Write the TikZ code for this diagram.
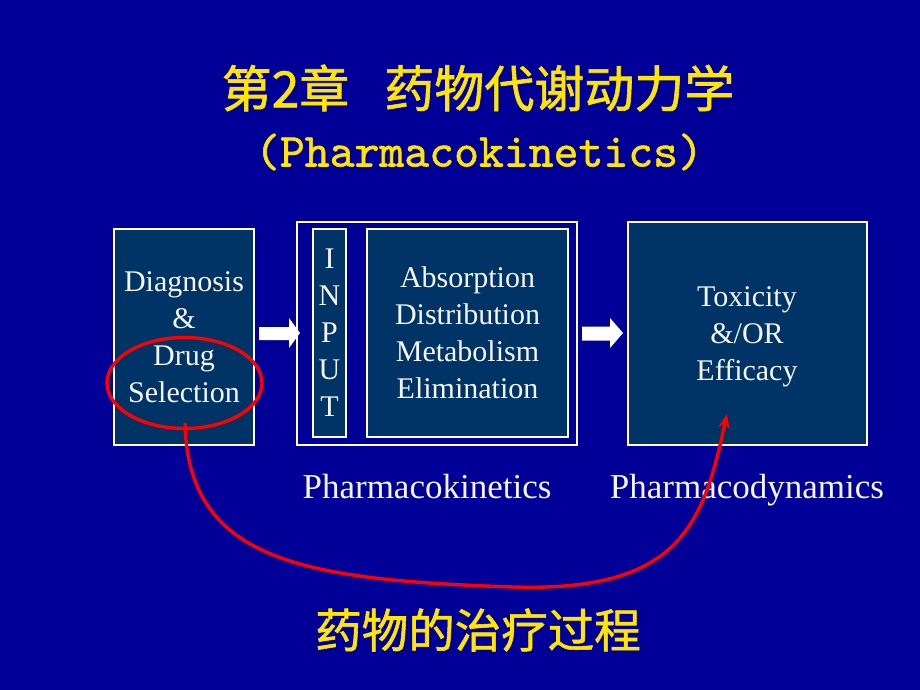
\documentclass[tikz,border=0pt]{standalone}
\usepackage{fontspec}
\setmainfont{Liberation Serif}
\newfontfamily\cjk[FakeBold=1.2]{Noto Sans CJK SC}
\newfontfamily\tmono[FakeBold=1.2]{lmmono10-regular.otf}
\usetikzlibrary{arrows.meta,shapes.geometric}
\definecolor{bgblue}{RGB}{0,0,153}
\definecolor{boxblue}{RGB}{0,51,102}
\definecolor{ttl}{RGB}{255,230,0}
\definecolor{txt}{RGB}{245,245,245}
\definecolor{redc}{RGB}{255,0,0}
\begin{document}
\begin{tikzpicture}[x=1pt,y=-1pt,
  box/.style={draw=white,line width=2.2pt,fill=boxblue,inner sep=0pt,text=txt,align=center,
    font=\fontsize{30}{37}\selectfont},
  frame/.style={draw=white,line width=2.6pt,inner sep=0pt},
  boxtext/.style={text=txt,align=center,inner sep=0pt,font=\fontsize{30}{37}\selectfont},
  label/.style={text=txt,inner sep=0pt,anchor=base,font=\fontsize{35}{40}\selectfont},
  blockarrow/.style={fill=white},
  redline/.style={draw=redc,line width=3.4pt},
  title/.style={text=ttl,inner sep=0pt}]
\fill[bgblue] (0,0) rectangle (920,690);
\useasboundingbox (0,0) rectangle (920,690);

% titles
\node[title] (t1) at (478,88) {\cjk\fontsize{50}{60}\selectfont 第2章\hspace{35pt}药物代谢动力学};
\node[title] (t2) at (479,152) {\tmono\fontsize{47.4}{56}\selectfont (Pharmacokinetics)};
\node[title] (t3) at (478,630) {\cjk\fontsize{46.5}{50}\selectfont 药物的治疗过程};

% boxes
\node[box,minimum width=140pt,minimum height=216pt] (b1) at (184,337) {Diagnosis\\\&\\Drug\\Selection};
\node[frame,minimum width=280pt,minimum height=223pt] (b2) at (437,333.5) {};
\node[box,minimum width=33pt,minimum height=208pt] (inp) at (329.5,333) {I\\N\\P\\U\\T};
\node[box,minimum width=201pt,minimum height=208pt] (adme) at (467.5,333) {Absorption\\Distribution\\Metabolism\\Elimination};
\node[box,minimum width=239pt,minimum height=223pt] (b3) at (747.5,333.5) {};
\node[boxtext] (b3t) at (747,337) {Toxicity\\\&/OR\\Efficacy};

% block arrows
\fill[blockarrow] (259,327) -- (289,327) -- (289,318) -- (300,333) -- (289,348) -- (289,340) -- (259,340) -- cycle;
\fill[blockarrow] (582,326.5) -- (610,326.5) -- (610,318) -- (623,333) -- (610,348) -- (610,340.5) -- (582,340.5) -- cycle;

% labels
\node[label] (lpk) at (427,498) {Pharmacokinetics};
\node[label] (lpd) at (747,498) {Pharmacodynamics};

% red ellipse and curve
\node[ellipse,redline,minimum width=155pt,minimum height=91pt,inner sep=0pt] (ell) at (184.5,383) {};
\coordinate (cs) at (185,423);
\coordinate (cm) at (513,587);
\coordinate (ce) at (727,414);
\draw[redline,-{Stealth[length=14pt,width=11pt]}] (cs) .. controls (188,560) and (300,580) .. (cm)
  .. controls (680,592) and (703,525) .. (ce);
\end{tikzpicture}
\end{document}
